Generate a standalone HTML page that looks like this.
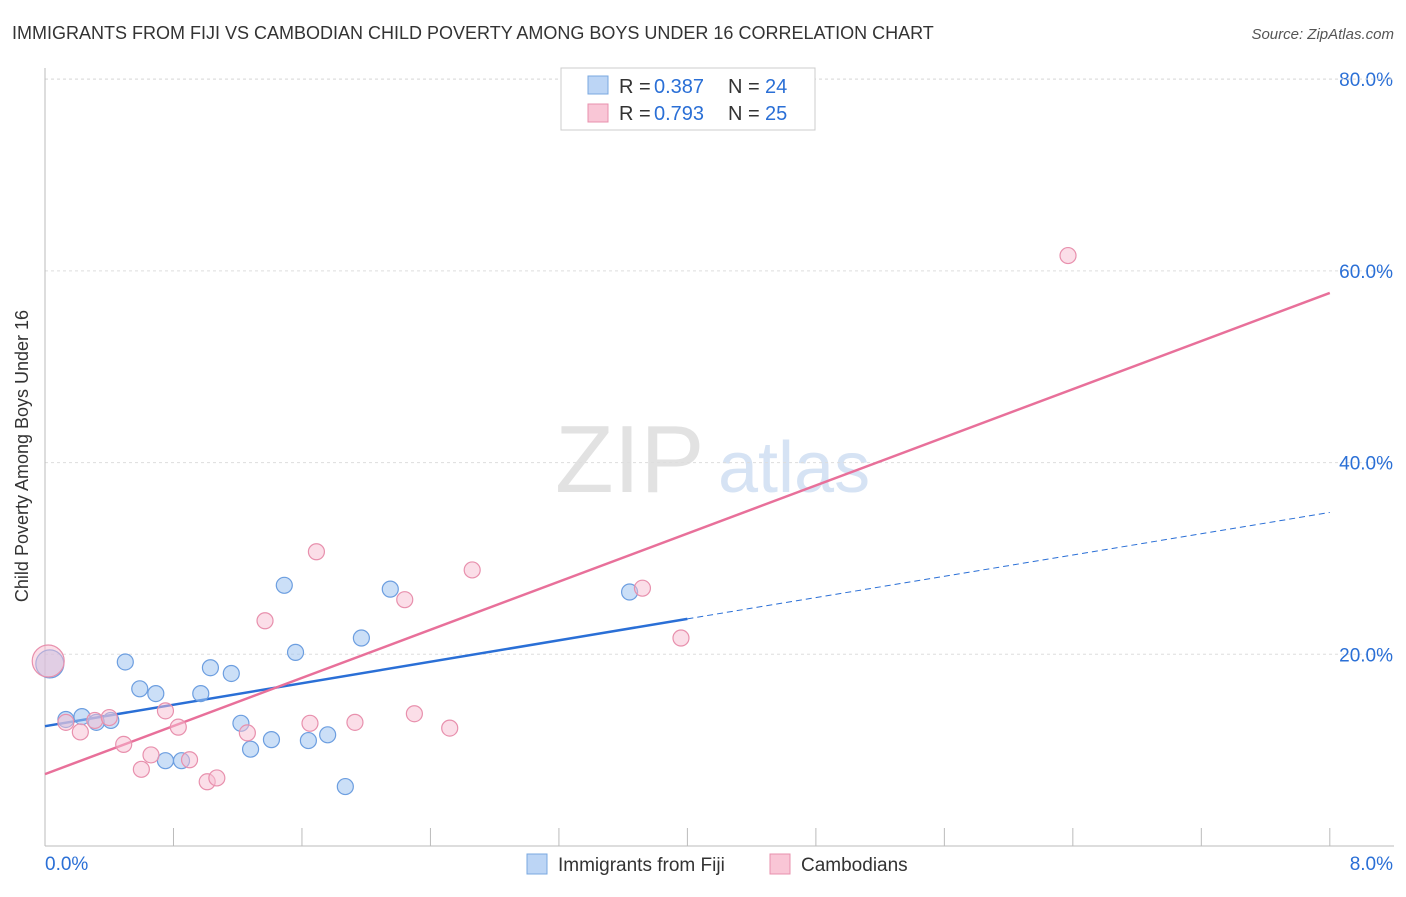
<!DOCTYPE html>
<html><head><meta charset="utf-8"><style>
body{margin:0;background:#fff;font-family:"Liberation Sans",sans-serif}
svg text{font-family:"Liberation Sans",sans-serif}
</style></head><body>
<svg id="chart" width="1406" height="892">
<text x="12" y="39" font-size="18" fill="#333">IMMIGRANTS FROM FIJI VS CAMBODIAN CHILD POVERTY AMONG BOYS UNDER 16 CORRELATION CHART</text>
<text x="1394" y="39" font-size="15" fill="#555" font-style="italic" text-anchor="end">Source: ZipAtlas.com</text>
<text x="28" y="456" font-size="18" fill="#333" text-anchor="middle" transform="rotate(-90 28 456)">Child Poverty Among Boys Under 16</text>
<text x="555" y="492" font-size="96" fill="#e2e2e2" font-family="Liberation Serif">ZIP</text>
<text x="718" y="492" font-size="72" fill="#d6e3f4">atlas</text>
<g id="grid"></g><g id="axes"></g><g id="trends"></g><g id="points"></g>
<g>
<rect x="561" y="68" width="254" height="62" fill="#fff" stroke="#ccc"/>
<rect x="588" y="76" width="20" height="18" fill="#bcd5f5" stroke="#7aa8e0"/>
<rect x="588" y="104" width="20" height="18" fill="#f9c6d6" stroke="#e890ad"/>
<text x="619" y="93" font-size="20" fill="#333">R =</text>
<text x="654" y="93" font-size="20" fill="#2a6fd6">0.387</text>
<text x="728" y="93" font-size="20" fill="#333">N =</text>
<text x="765" y="93" font-size="20" fill="#2a6fd6">24</text>
<text x="619" y="120" font-size="20" fill="#333">R =</text>
<text x="654" y="120" font-size="20" fill="#2a6fd6">0.793</text>
<text x="728" y="120" font-size="20" fill="#333">N =</text>
<text x="765" y="120" font-size="20" fill="#2a6fd6">25</text>
</g>
<g>
<rect x="527" y="854" width="20" height="20" fill="#bcd5f5" stroke="#7aa8e0"/>
<text x="558" y="871" font-size="19" fill="#333">Immigrants from Fiji</text>
<rect x="770" y="854" width="20" height="20" fill="#f9c6d6" stroke="#e890ad"/>
<text x="801" y="871" font-size="19" fill="#333">Cambodians</text>
</g>
</svg>
<script>
const fijiX=[0.03,0.13,0.23,0.32,0.41,0.50,0.59,0.69,0.75,0.85,0.97,1.03,1.16,1.22,1.28,1.41,1.49,1.56,1.64,1.76,1.87,1.97,2.15,3.64];
const fijiY=[19.0,13.2,13.5,12.9,13.1,19.2,16.4,15.9,8.9,8.9,15.9,18.6,18.0,12.8,10.1,11.1,27.2,20.2,11.0,11.6,6.2,21.7,26.8,26.5];
const cambX=[0.02,0.13,0.22,0.31,0.40,0.49,0.60,0.66,0.75,0.83,0.90,1.01,1.07,1.26,1.37,1.65,1.69,1.93,2.24,2.30,2.52,2.66,3.72,3.96,6.37];
const cambY=[19.3,12.9,11.9,13.1,13.4,10.6,8.0,9.5,14.1,12.4,9.0,6.7,7.1,11.8,23.5,12.8,30.7,12.9,25.7,13.8,12.3,28.8,26.9,21.7,61.6];
const yTicks=[20,40,60,80];
const yTickLabels=["20.0%","40.0%","60.0%","80.0%"];
const xTickLabels=["0.0%","8.0%"];
const fijiTrend=[12.5,23.7,34.8];
const cambTrend=[7.5,57.7];
const NS="http://www.w3.org/2000/svg";
const sx=v=>45+v*160.6, sy=v=>846-v*9.585;
function mk(p,t,a){const e=document.createElementNS(NS,t);for(const k in a)e.setAttribute(k,a[k]);document.getElementById(p).appendChild(e);return e;}
yTicks.forEach((t,i)=>{
 const g=mk('grid','line',{x1:45,x2:1394,y1:sy(t),y2:sy(t),stroke:'#ddd','stroke-dasharray':'3,3'});
 
 
 const l=mk('grid','text',{x:1393,y:sy(t)+7,'font-size':19,fill:'#2a6fd6','text-anchor':'end'});
 l.textContent=yTickLabels[i];
 
 
});
const topGrid=mk('grid','line',{x1:45,x2:1394,y1:79,y2:79,stroke:'#ddd','stroke-dasharray':'3,3'});


const ax=mk('axes','line',{x1:45,x2:1394,y1:846,y2:846,stroke:'#bbb'});


const ay=mk('axes','line',{x1:45,x2:45,y1:68,y2:846,stroke:'#bbb'});


for(let i=1;i<=10;i++){const t=mk('axes','line',{x1:sx(i*0.8),x2:sx(i*0.8),y1:828,y2:846,stroke:'#bbb'});
 
 }
[[0,'start',45],[1,'end',1393]].forEach(([i,a,x])=>{const l=mk('axes','text',{x:x,y:870,'font-size':19,fill:'#2a6fd6','text-anchor':a});l.textContent=xTickLabels[i];
 
 });
const bt=mk('trends','line',{x1:sx(0),y1:sy(fijiTrend[0]),x2:sx(4),y2:sy(fijiTrend[1]),stroke:'#2a6fd6','stroke-width':2.5});


const bd=mk('trends','line',{x1:sx(4),y1:sy(fijiTrend[1]),x2:sx(8),y2:sy(fijiTrend[2]),stroke:'#2a6fd6','stroke-width':1,'stroke-dasharray':'6,4'});


const pt=mk('trends','line',{x1:sx(0),y1:sy(cambTrend[0]),x2:sx(8),y2:sy(cambTrend[1]),stroke:'#e8709a','stroke-width':2.5});


fijiX.forEach((x,i)=>{const c=mk('points','circle',{cx:sx(x),cy:sy(fijiY[i]),r:i==0?14:8,fill:'rgba(160,196,240,0.55)',stroke:'#6c9ee0','stroke-width':1.2});
 
 });
cambX.forEach((x,i)=>{const c=mk('points','circle',{cx:sx(x),cy:sy(cambY[i]),r:i==0?16:8,fill:'rgba(248,190,210,0.5)',stroke:'#e890ad','stroke-width':1.2});
 
 });
</script>
</body></html>
